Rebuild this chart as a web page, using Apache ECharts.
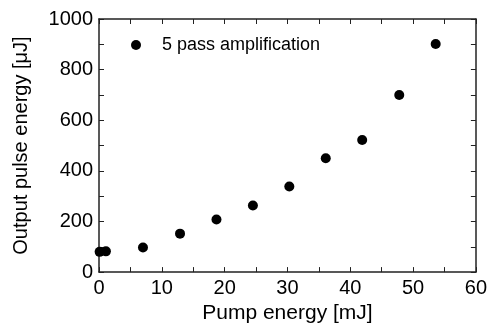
<!DOCTYPE html>
<html>
<head>
<meta charset="utf-8">
<script src="https://cdn.jsdelivr.net/npm/echarts@6/dist/echarts.min.js"></script>
<style>
html,body{margin:0;padding:0;background:#fff;}
#chart{width:490px;height:329px;}
</style>
</head>
<body>
<div id="chart"></div>
<script>
var pumpEnergy = [0.1, 1.1, 7.0, 12.9, 18.7, 24.5, 30.3, 36.1, 41.9, 47.8, 53.6];
var outputEnergy = [80, 82, 97, 152, 208, 263, 338, 450, 522, 700, 901];
var seriesName = '5 pass amplification';

var points = [];
for (var i = 0; i < pumpEnergy.length; i++) {
	points.push([pumpEnergy[i], outputEnergy[i]]);
}

var font = 'Liberation Sans, Arial, sans-serif';
var axisColor = '#222';

function boxAxis(min, max, interval, showLabel) {
	return {
		type: 'value',
		min: min,
		max: max,
		interval: interval,
		axisLine: {show: true, onZero: false, lineStyle: {color: axisColor, width: 1.5}},
		axisTick: {show: true, inside: true, length: 5, lineStyle: {color: axisColor, width: 1}},
		minorTick: {show: true, splitNumber: 2, length: 5, lineStyle: {color: axisColor, width: 1}},
		splitLine: {show: false},
		axisLabel: {
			show: showLabel, color: '#000', fontSize: 20, fontFamily: font, margin: 6,
			formatter: function (v) { return String(v); }
		}
	};
}

var chart = echarts.init(document.getElementById('chart'));

var xBottom = boxAxis(0, 60, 10, true);
xBottom.position = 'bottom';
xBottom.name = 'Pump energy [mJ]';
xBottom.nameLocation = 'middle';
xBottom.nameGap = 27;
xBottom.nameTextStyle = {color: '#000', fontSize: 21, fontFamily: font};

var xTop = boxAxis(0, 60, 10, false);
xTop.position = 'top';

var yLeft = boxAxis(0, 1000, 200, true);
yLeft.position = 'left';
yLeft.name = 'Output pulse energy [μJ]';
yLeft.nameLocation = 'middle';
yLeft.nameGap = 68;
yLeft.nameTextStyle = {color: '#000', fontSize: 20, fontFamily: font};

var yRight = boxAxis(0, 1000, 200, false);
yRight.position = 'right';

var option = {
	animation: false,
	backgroundColor: '#fff',
	grid: {left: 99, right: 13, top: 19, bottom: 54},
	legend: {
		left: 126,
		top: 31,
		icon: 'circle',
		itemWidth: 42,
		itemHeight: 10,
		textStyle: {color: '#000', fontSize: 18, fontFamily: font},
		data: [seriesName]
	},
	xAxis: [xBottom, xTop],
	yAxis: [yLeft, yRight],
	series: [
		{
			name: seriesName,
			type: 'scatter',
			xAxisIndex: 0,
			yAxisIndex: 0,
			clip: true,
			symbol: 'circle',
			symbolSize: 10,
			itemStyle: {color: '#000', opacity: 1},
			data: points
		}
	]
};
chart.setOption(option);
</script>
</body>
</html>
